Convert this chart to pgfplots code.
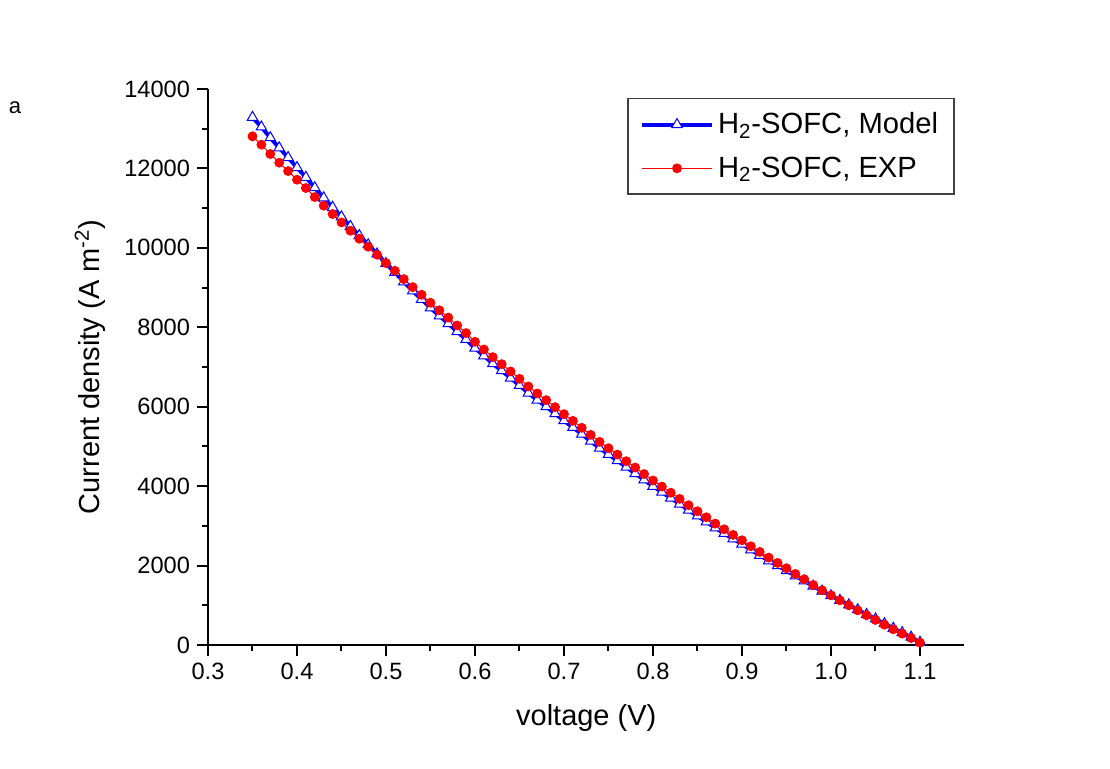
\documentclass[border=0pt]{standalone}
\usepackage{fontspec}
\setmainfont{Liberation Sans}
\usepackage{pgfplots}
\pgfplotsset{compat=1.18}

% voltage vs current density, 0.01 V steps
\begin{document}
\begin{tikzpicture}
\useasboundingbox (-104pt,-62pt) rectangle (451pt,322.5pt);
\begin{axis}[
    at={(0,0)}, anchor=south west,
    scale only axis,
    width=378.25pt, height=278pt,
    xmin=0.3, xmax=1.15,
    ymin=0, ymax=14000,
    xtick={0.3,0.4,...,1.1},
    ytick={0,2000,...,14000},
    minor x tick num=1,
    minor y tick num=1,
    axis x line*=bottom,
    axis y line*=left,
    axis line style={line width=1.2pt},
    tick align=outside,
    major tick length=5.5pt,
    minor tick length=3pt,
    every tick/.style={black, line width=1pt},
    scaled y ticks=false,
    /pgf/number format/assume math mode=true,
    ticklabel style={font=\fontsize{11.8}{13}\selectfont},
    xticklabel style={/pgf/number format/.cd, fixed, fixed zerofill, precision=1},
    yticklabel style={/pgf/number format/.cd, fixed, set thousands separator={}},
    xlabel={voltage (V)},
    ylabel={Current density (A m\textsuperscript{-2})},
    every axis x label/.style={at={(axis description cs:0.5,-0.131)}, anchor=center,
        font=\fontsize{14.5}{16}\selectfont},
    every axis y label/.style={at={(axis description cs:-0.156,0.5)}, rotate=90, anchor=center,
        font=\fontsize{14.5}{16}\selectfont},
    legend style={at={(axis description cs:0.987,0.984)}, anchor=north east,
        draw=black!75, line width=0.6pt, font=\fontsize{14.6}{17}\selectfont,
        inner xsep=6pt, inner ysep=5pt, row sep=6pt},
    legend cell align=left,
    legend image code/.code={
        \draw[mark repeat=2, mark phase=2] plot coordinates {(0pt,0pt) (17.5pt,0pt) (35pt,0pt)};
    },
    clip=false,
]
\addplot[blue, line width=2pt, mark=triangle*, mark size=3pt,
    mark options={fill=white, draw=blue, line width=0.5pt}]
coordinates {
(0.35,13288) (0.36,13043) (0.37,12773) (0.38,12519) (0.39,12274)
(0.40,12021) (0.41,11776) (0.42,11514) (0.43,11261) (0.44,11021)
(0.45,10781) (0.46,10541) (0.47,10309) (0.48,10078) (0.49,9846)
(0.50,9606) (0.51,9383) (0.52,9143) (0.53,8916) (0.54,8703)
(0.55,8487) (0.56,8288) (0.57,8094) (0.58,7891) (0.59,7693)
(0.60,7474) (0.61,7281) (0.62,7083) (0.63,6907) (0.64,6722)
(0.65,6537) (0.66,6344) (0.67,6168) (0.68,6000) (0.69,5824)
(0.70,5647) (0.71,5479) (0.72,5308) (0.73,5131) (0.74,4955)
(0.75,4800) (0.76,4640) (0.77,4478) (0.78,4318) (0.79,4159)
(0.80,3996) (0.81,3849) (0.82,3699) (0.83,3549) (0.84,3394)
(0.85,3248) (0.86,3102) (0.87,2947) (0.88,2809) (0.89,2672)
(0.90,2542) (0.91,2396) (0.92,2258) (0.93,2120) (0.94,1996)
(0.95,1872) (0.96,1739) (0.97,1615) (0.98,1482) (0.99,1357)
(1.00,1241) (1.01,1125) (1.02,1009) (1.03,888) (1.04,768)
(1.05,655) (1.06,537) (1.07,420) (1.08,310) (1.09,196)
(1.10,69)
};
\addlegendentry{H\textsubscript{2}-SOFC, Model}

\addplot[red, line width=0.5pt, mark=*, mark size=2.2pt,
    mark options={fill=red, draw=red}]
coordinates {
(0.35,12808) (0.36,12598) (0.37,12363) (0.38,12144) (0.39,11934)
(0.40,11716) (0.41,11506) (0.42,11279) (0.43,11061) (0.44,10851)
(0.45,10641) (0.46,10431) (0.47,10229) (0.48,10028) (0.49,9826)
(0.50,9616) (0.51,9423) (0.52,9213) (0.53,9011) (0.54,8818)
(0.55,8617) (0.56,8428) (0.57,8244) (0.58,8046) (0.59,7853)
(0.60,7634) (0.61,7441) (0.62,7248) (0.63,7072) (0.64,6887)
(0.65,6702) (0.66,6509) (0.67,6333) (0.68,6165) (0.69,5989)
(0.70,5812) (0.71,5644) (0.72,5468) (0.73,5291) (0.74,5115)
(0.75,4955) (0.76,4795) (0.77,4628) (0.78,4468) (0.79,4304)
(0.80,4141) (0.81,3989) (0.82,3834) (0.83,3679) (0.84,3519)
(0.85,3368) (0.86,3217) (0.87,3057) (0.88,2914) (0.89,2772)
(0.90,2637) (0.91,2486) (0.92,2343) (0.93,2200) (0.94,2066)
(0.95,1932) (0.96,1789) (0.97,1655) (0.98,1512) (0.99,1377)
(1.00,1251) (1.01,1125) (1.02,999) (1.03,873) (1.04,748)
(1.05,630) (1.06,512) (1.07,395) (1.08,285) (1.09,176)
(1.10,59)
};
\addlegendentry{H\textsubscript{2}-SOFC, EXP}

\node[anchor=center, font=\fontsize{11}{13}\selectfont] at (axis description cs:-0.255,0.966) {a};
\end{axis}
\end{tikzpicture}
\end{document}
